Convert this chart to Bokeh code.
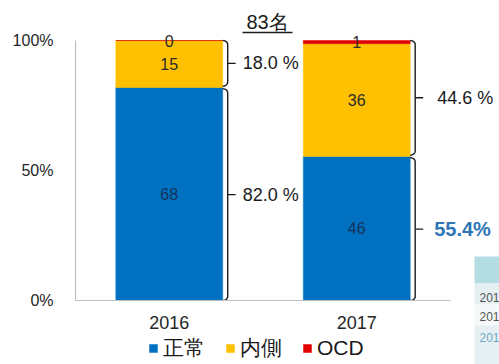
import numpy as np
from bokeh.plotting import figure
from bokeh.models import ColumnDataSource, FixedTicker, Legend, LegendItem, Range1d
from bokeh.core.properties import value
from bokeh.embed import file_html
from bokeh.resources import INLINE

# ---- data ----
years = ["2016", "2017"]
series = ["正常", "内側", "OCD"]
normal = [68, 46]
medial = [15, 36]
ocd = [0, 1]
colors = ["#0070C0", "#FFC000", "#E00000"]
y_ticks = [0, 50, 100]
y_tick_labels = ["0%", "50%", "100%"]
upper_labels = ["18.0 %", "44.6 %"]
lower_labels = ["82.0 %", "55.4%"]
title_text = "83名"
table_rows = ["201", "201", "201"]

# ---- layout constants ----
W, H = 499, 364
LEFT = 75            # frame left edge (px)
ZERO_Y = 300         # pixel row of 0 %
PX_X = 1 / 187.5     # data units per pixel (x)
PX_Y = 100 / 260     # data units per pixel (y)
BAR_W = 0.57
LABEL_OFF = [20, 27]  # label offset from bar edge (px), per bar

def dx(px):  # pixel column -> data x
    return -0.5 + (px - LEFT) * PX_X

def dy(py):  # pixel row -> data y
    return (ZERO_Y - py) * PX_Y

counts = np.array([normal, medial, ocd], dtype=float)
totals = counts.sum(axis=0)
pct = counts / totals * 100.0
xs = list(range(len(years)))

src = ColumnDataSource(dict(x=xs, **{s: pct[i] for i, s in enumerate(series)}))

FONT = "Liberation Sans"
p = figure(width=W, height=H, output_backend="svg", toolbar_location=None,
           x_range=Range1d(dx(LEFT), dx(W)), y_range=Range1d(dy(H), dy(0)),
           min_border_left=LEFT, min_border_right=0, min_border_top=0, min_border_bottom=0)
p.outline_line_color = None
p.grid.visible = False

# decorative cropped table (bottom-right)
tbl_top = [256, 283, 304, 325]
tbl_bot = [283, 304, 325, H]
tbl_col = ["#B4DCE3", "#E6F0F3", "#F4F8F9", "#E6F0F3"]
p.quad(left=[dx(474)] * 4, right=[dx(W + 2)] * 4, top=[dy(t) for t in tbl_top],
       bottom=[dy(b) for b in tbl_bot], fill_color=tbl_col, line_color=None)
p.text(x=[dx(479)] * 3, y=[dy(297), dy(316), dy(337)], text=table_rows,
       text_baseline="middle", text_font=value(FONT), text_font_size="12px",
       text_color=["#555555", "#555555", "#6FA8C8"])

rs = p.vbar_stack(series, x="x", width=BAR_W, color=colors, source=src,
                  line_color=colors, line_width=0.5)

# axes
p.yaxis.ticker = FixedTicker(ticks=y_ticks)
p.yaxis.major_label_overrides = {t: l for t, l in zip(y_ticks, y_tick_labels)}
p.yaxis.bounds = (0, 100)
p.xaxis.ticker = FixedTicker(ticks=xs)
p.xaxis.major_label_overrides = {x: y for x, y in zip(xs, years)}
p.xaxis.bounds = (-0.5, len(years) - 0.5)
p.xaxis.fixed_location = 0
for ax in (p.xaxis[0], p.yaxis[0]):
    ax.axis_line_color = "#BFBFBF"
    ax.axis_line_width = 1.2
    ax.major_tick_line_color = None
    ax.minor_tick_line_color = None
    ax.major_label_text_font = FONT
    ax.major_label_text_color = "#262626"
p.yaxis.major_label_text_font_size = "16px"
p.yaxis.major_label_standoff = 16
p.xaxis.major_label_text_font_size = "18px"
p.xaxis.major_label_standoff = 9

# value labels inside bars
cum = np.cumsum(pct, axis=0)
centers = cum - pct / 2
lab_colors = ["#15345C", "#2B2B2B", "#2B2B2B"]
for i in range(len(series)):
    p.text(x=xs, y=centers[i], text=[str(int(v)) for v in counts[i]],
           text_align="center", text_baseline="middle", text_font=value(FONT),
           text_font_size="16px", text_color=lab_colors[i])

# braces
def brace(xr, top, bot):
    xb = xr + 5 * PX_X
    rx, ry = 5 * PX_X, 4 * PX_Y
    th = np.linspace(np.pi / 2, 0, 8)
    top_x = (xb - rx) + rx * np.cos(th)
    top_y = (top - ry) + ry * np.sin(th)
    bot_x = top_x[::-1]
    bot_y = (bot + ry) - ry * np.sin(th[::-1])
    bx = np.concatenate([top_x, bot_x])
    by = np.concatenate([top_y, bot_y])
    mid = (top + bot) / 2
    return list(bx), list(by), [xb, xb + 8 * PX_X], [mid, mid], mid

gap = 0.5
for j, x in enumerate(xs):
    xr = x + BAR_W / 2
    split = pct[0][j]
    for (top, bot, lab, bold) in [(100, split + gap, upper_labels[j], False),
                                  (split - gap, 0, lower_labels[j], j == len(xs) - 1)]:
        bx, by, tx, ty, mid = brace(xr, top, bot)
        p.line(bx, by, line_color="#1A1A1A", line_width=1.4)
        p.line(tx, ty, line_color="#1A1A1A", line_width=1.4)
        if bold:
            p.text(x=[xr + 24 * PX_X], y=[mid], text=[lab], text_align="left",
                   text_baseline="middle", text_font=value(FONT), text_font_size="20px",
                   text_font_style="bold", text_color="#2E75B6")
        else:
            p.text(x=[xr + LABEL_OFF[j] * PX_X], y=[mid], text=[lab], text_align="left",
                   text_baseline="middle", text_font=value(FONT), text_font_size="18px",
                   text_color="#1A1A1A")

# title
tx = dx(267)
p.text(x=[tx], y=[dy(21)], text=[title_text], text_align="center", text_baseline="middle",
       text_font=value(FONT), text_font_size="20px", text_color="#1A1A1A")
p.line([tx - 25 * PX_X, tx + 25 * PX_X], [dy(32)] * 2, line_color="#1A1A1A", line_width=1.4)

legend = Legend(items=[LegendItem(label=s, renderers=[r]) for s, r in zip(series, rs)],
                orientation="horizontal", location=(148 - LEFT, 2),
                glyph_width=10, glyph_height=10, label_standoff=5, spacing=20,
                padding=0, margin=0, border_line_color=None, background_fill_alpha=0,
                label_text_font=FONT, label_text_font_size="21px", label_text_color="#1A1A1A")
p.add_layout(legend)

open("out.html", "w").write(file_html(p, INLINE))
